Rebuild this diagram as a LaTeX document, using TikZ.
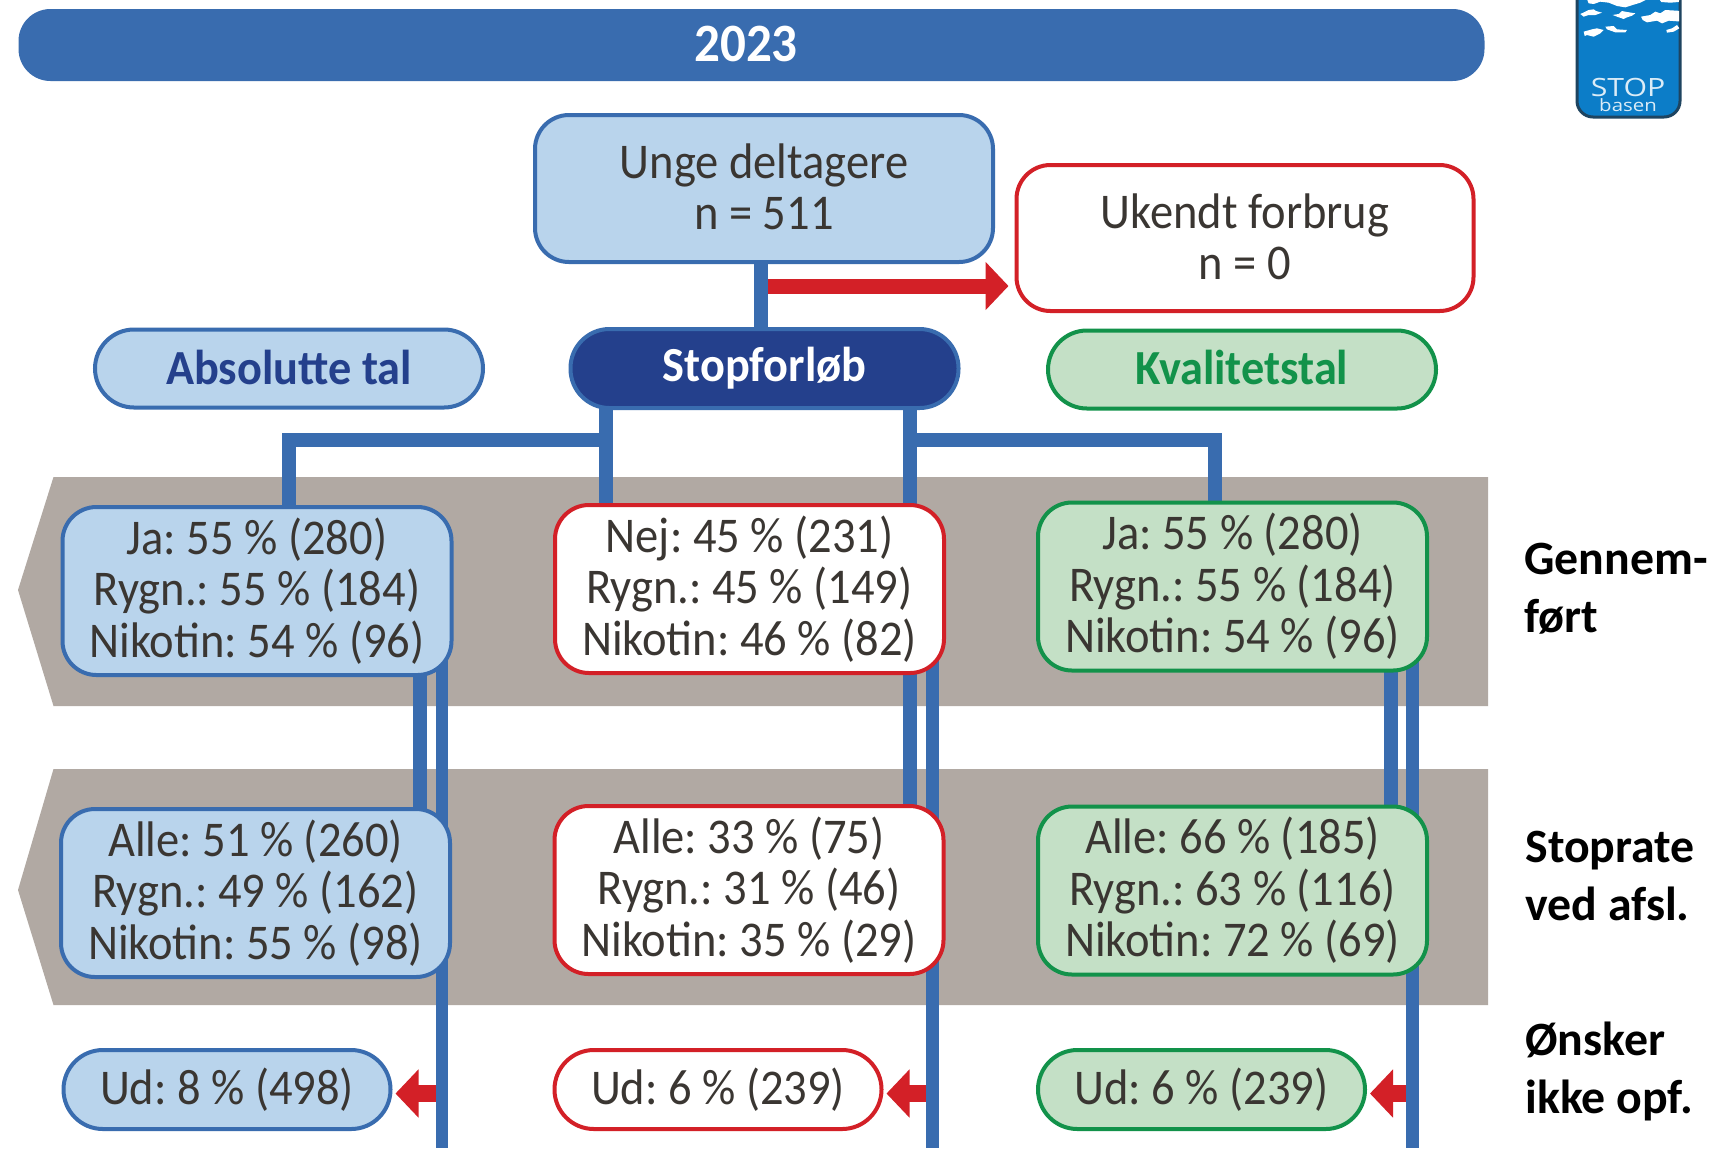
\documentclass[tikz,border=0pt]{standalone}
\usepackage{fontspec}
\usetikzlibrary{arrows.meta}
\setmainfont{Carlito}
\frenchspacing
\newfontfamily\condfont[FakeStretch=0.93]{Carlito}
\newfontfamily\boldcond[FakeStretch=0.945]{Carlito}
\newfontfamily\logofont[FakeStretch=1.2]{Open Sans}
\definecolor{barblue}{HTML}{396CAF}
\definecolor{navy}{HTML}{24408C}
\definecolor{lightblue}{HTML}{B9D4EC}
\definecolor{lightgreen}{HTML}{C4E0C6}
\definecolor{dkgreen}{HTML}{12924A}
\definecolor{alertred}{HTML}{D32027}
\definecolor{band}{HTML}{B1A9A3}
\definecolor{ink}{HTML}{3A3632}
\definecolor{logoblue}{HTML}{0C7DC8}
\definecolor{logoedge}{HTML}{1E4460}
\pgfdeclarelayer{under}
\pgfsetlayers{under,main}
\tikzset{
  box/.style={draw, line width=2pt, inner sep=0pt, outer sep=0pt, align=center,
     font=\condfont\fontsize{25}{25.75}\selectfont\frenchspacing, text=ink, minimum width=194.5pt, minimum height=84pt, rounded corners=17pt},
  bluebox/.style={box, draw=barblue, fill=lightblue},
  redbox/.style={box, draw=alertred, fill=white},
  greenbox/.style={box, draw=dkgreen, fill=lightgreen},
  header/.style={minimum width=194pt, minimum height=39pt, rounded corners=19.5pt, font=\boldcond\bfseries\fontsize{24.5}{25}\selectfont},
  udbox/.style={minimum width=163.5pt, minimum height=39.5pt, rounded corners=19.7pt},
  conn/.style={draw=barblue, line width=7pt, line cap=butt, line join=miter},
  thin conn/.style={draw=barblue, line width=6.2pt},
  redarrow/.style={draw=alertred, line width=7.5pt, -{Triangle[length=11.5pt,width=23.5pt,fill=alertred]}},
  sidelabel/.style={anchor=west, align=left, text=black, font=\bfseries\fontsize{23.9}{29}\selectfont, inner sep=0pt},
}
\begin{document}
\begin{tikzpicture}[x=0.5pt,y=-0.5pt]
\useasboundingbox (0,0) rectangle (1713,1148);

\begin{pgfonlayer}{under}
\fill[white] (0,0) rectangle (1713,1148);
\fill[band] (18,590) -- (53.5,477) -- (1488,477) -- (1488,706) -- (53.5,706) -- cycle;
\fill[band] (18,890) -- (53.5,769) -- (1488,769) -- (1488,1005) -- (53.5,1005) -- cycle;
\end{pgfonlayer}

% title bar
\node[fill=barblue, rounded corners=16pt, minimum width=733pt, minimum height=36pt, inner sep=0pt, outer sep=0pt] (title) at (751.5,45) {};
\node[text=white, inner sep=0pt, font=\boldcond\bfseries\fontsize{27}{27}\selectfont] (year) at (746,44) {2023};

% logo
\begin{scope}
\clip (1570,0) rectangle (1690,130);
\draw[fill=logoblue, draw=logoedge, line width=1.5pt, rounded corners=8pt] (1577,-30) rectangle (1680,117);
\begin{scope}
\clip (1578,0) rectangle (1679,42);
\begin{scope}[shift={(1572,0)},x=0.16667pt,y=-0.16667pt]
\fill[white] (45,-2) -- (50,10) -- (65,12) -- (85,5) -- (110,8) -- (135,18) -- (160,22) -- (185,14) -- (205,8) -- (225,-2) -- cycle;
\fill[white] (262,-2) -- (268,6) -- (295,8) -- (320,6) -- (322,-2) -- cycle;
\fill[white] (25,42) -- (40,35) -- (50,30) -- (65,28) -- (72,33) -- (90,38) -- (70,45) -- (50,45) -- (35,50) -- cycle;
\fill[white] (122,45) -- (140,42) -- (150,33) -- (165,36) -- (190,40) -- (180,47) -- (165,52) -- (155,57) -- (135,50) -- cycle;
\fill[white] (207,50) -- (235,45) -- (250,35) -- (265,40) -- (280,30) -- (330,33) -- (330,65) -- (290,62) -- (270,70) -- (255,62) -- (225,67) -- (212,60) -- cycle;
\fill[white] (35,95) -- (60,88) -- (75,85) -- (95,90) -- (85,100) -- (65,110) -- (45,105) -- (38,108) -- cycle;
\fill[white] (100,80) -- (125,78) -- (135,88) -- (165,90) -- (160,97) -- (130,97) -- (105,88) -- cycle;
\fill[white] (283,90) -- (300,85) -- (315,75) -- (322,85) -- (305,95) -- (285,98) -- cycle;
\end{scope}
\end{scope}
\end{scope}
\node[text=white!85!logoblue, inner sep=0pt, font=\logofont\fontsize{12.6}{12.6}\selectfont] (stoplogo) at (1628,87) {STOP};
\node[text=white!85!logoblue, inner sep=0pt, font=\logofont\fontsize{8.5}{8.5}\selectfont] (baselogo) at (1628,105.5) {basen};

% named positions for the connector runs
\coordinate (xa) at (761,0);
\coordinate (xb) at (606,0);
\coordinate (xc) at (909.5,0);
\coordinate (xd) at (289,0);
\coordinate (xe) at (1215,0);
\coordinate (yh) at (0,439.5);
\coordinate (yr) at (0,286);
\coordinate (ybottom) at (0,1148);
\coordinate (ya) at (0,1093.5);
\coordinate (x1a) at (419.5,0);
\coordinate (x1b) at (442,0);
\coordinate (x2a) at (909.5,0);
\coordinate (x2b) at (932.5,0);
\coordinate (x3a) at (1391,0);
\coordinate (x3b) at (1412.5,0);
\coordinate (xredtop) at (768,0);

% boxes
\node[bluebox, minimum width=229pt, minimum height=73.5pt] (unge) at (764,188.5) {\raisebox{1.8pt}{Unge deltagere}\\\raisebox{1.8pt}{n = 511}};
\node[redbox, minimum width=228.5pt, minimum height=73pt] (ukendt) at (1245,238) {\raisebox{1.5pt}{Ukendt forbrug}\\\raisebox{1.5pt}{n = 0}};
\node[bluebox, header, text=navy] (abs) at (289,368.5) {\raisebox{1.5pt}{Absolutte tal}};
\node[box, header, draw=barblue, fill=navy, text=white, minimum height=39.5pt] (stop) at (764.5,368.5) {\raisebox{-1.5pt}{Stopforløb}};
\node[greenbox, header, text=dkgreen] (kval) at (1242,369.5) {\raisebox{2.5pt}{Kvalitetstal}};
\node[bluebox] (ja1) at (257,591) {Ja: 55 \% (280)\\Rygn.: 55 \% (184)\\Nikotin: 54 \% (96)};
\node[redbox] (nej) at (749.5,589) {Nej: 45 \% (231)\\Rygn.: 45 \% (149)\\Nikotin: 46 \% (82)};
\node[greenbox] (ja3) at (1232.5,586.5) {Ja: 55 \% (280)\\Rygn.: 55 \% (184)\\Nikotin: 54 \% (96)};
\node[bluebox] (alle1) at (255.5,893) {Alle: 51 \% (260)\\Rygn.: 49 \% (162)\\Nikotin: 55 \% (98)};
\node[redbox] (alle2) at (749,890) {Alle: 33 \% (75)\\Rygn.: 31 \% (46)\\Nikotin: 35 \% (29)};
\node[greenbox] (alle3) at (1232.5,890.5) {Alle: 66 \% (185)\\Rygn.: 63 \% (116)\\Nikotin: 72 \% (69)};
\node[bluebox, udbox] (ud1) at (227,1089.5) {Ud: 8 \% (498)};
\node[redbox, udbox] (ud2) at (718,1089.5) {Ud: 6 \% (239)};
\node[greenbox, udbox] (ud3) at (1201.5,1089.5) {Ud: 6 \% (239)};

% connectors, over the bands and under the boxes
\begin{pgfonlayer}{under}
\draw[conn] (unge.south -| xa) -- (stop.north -| xa);
\draw[conn] (stop.south -| xb) -- (nej.north -| xb);
\draw[conn] (stop.south -| xc) -- (nej.north -| xc);
\draw[conn] (xb |- yh) -- (xd |- yh) -- (ja1.north -| xd);
\draw[conn] (xc |- yh) -- (xe |- yh) -- (ja3.north -| xe);
\draw[conn] (ja1.south -| x1a) -- (alle1.north -| x1a);
\draw[conn] (nej.south -| x2a) -- (alle2.north -| x2a);
\draw[conn] (ja3.south -| x3a) -- (alle3.north -| x3a);
\draw[thin conn] (ja1.center -| x1b) -- (ybottom -| x1b);
\draw[thin conn] (nej.center -| x2b) -- (ybottom -| x2b);
\draw[thin conn] (ja3.center -| x3b) -- (ybottom -| x3b);
\end{pgfonlayer}
\draw[redarrow, shorten >=4pt] (xredtop |- yr) -- (ukendt.west |- yr);
\draw[redarrow, line width=8.5pt, shorten >=2.5pt] ([xshift=-3.2pt]x1b |- ya) -- (ud1.east |- ya);
\draw[redarrow, line width=8.5pt, shorten >=2.5pt] ([xshift=-3.2pt]x2b |- ya) -- (ud2.east |- ya);
\draw[redarrow, line width=8.5pt, shorten >=2.5pt] ([xshift=-3.2pt]x3b |- ya) -- (ud3.east |- ya);

% side labels
\node[sidelabel] (lab1) at (1524,589) {Gennem-\\ført};
\node[sidelabel] (lab2) at (1525,876) {Stoprate\\ved afsl.};
\node[sidelabel] (lab3) at (1525,1071) {Ønsker\\ikke opf.};
\end{tikzpicture}
\end{document}
